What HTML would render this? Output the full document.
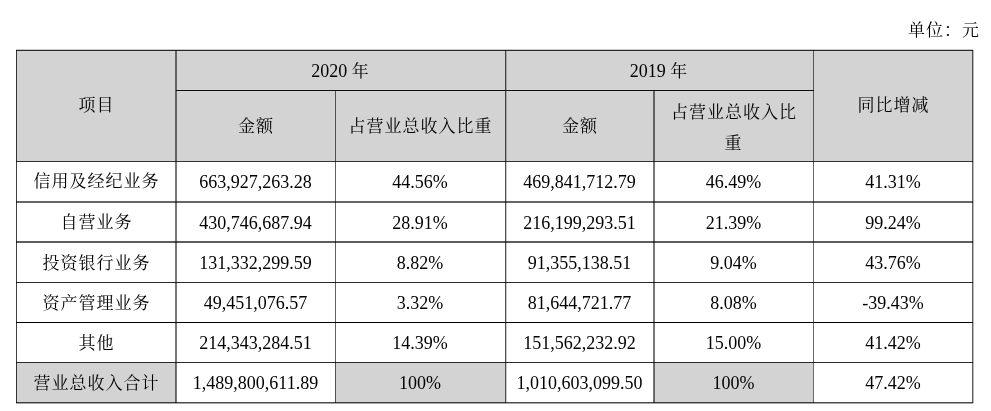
<!DOCTYPE html>
<html lang="zh-CN">
<head>
<meta charset="utf-8">
<title>营业总收入构成</title>
<style>
html, body { margin: 0; padding: 0; background: #fff; }
body { width: 991px; height: 411px; position: relative; overflow: hidden;
  font-family: "Liberation Serif", "Noto Serif CJK SC", serif; font-size: 18px; color: #000; }
.c { font-family: "Noto Serif CJK SC", serif; color: #000; font-size: 17px; letter-spacing: 1px; }
td.c { text-indent: 1px; }
.unit { position: absolute; left: 908px; top: 16.5px; line-height: 24px; white-space: nowrap; }
table { position: absolute; left: 16px; top: 50px; border-collapse: collapse; border-spacing: 0; table-layout: fixed; width: 957px; }
td { border: 0; text-align: center; vertical-align: middle; padding: 1px 9px 0; line-height: 31px; white-space: nowrap; }
td.w { white-space: normal; padding-bottom: 0; }
td.c { padding-top: 0; padding-bottom: 4px; }
tr.r2 td.c { padding-bottom: 2px; }
tr.r2 td.c.w { padding-bottom: 0; padding-top: 1px; }
.g { background: #d3d3d3; }
.h, .v { position: absolute; mix-blend-mode: multiply; }
.h { height: 1px; }
.v { width: 1px; }
</style>
</head>
<body>
<div class="unit c">单位：元</div>
<table>
<colgroup>
<col style="width:160px"><col style="width:159px"><col style="width:170px"><col style="width:149px"><col style="width:159px"><col style="width:160px">
</colgroup>
<tr style="height:40px">
<td class="g c" rowspan="2">项目</td>
<td class="g" colspan="2">2020 <span class="c">年</span></td>
<td class="g" colspan="2">2019 <span class="c">年</span></td>
<td class="g c" rowspan="2">同比增减</td>
</tr>
<tr class="r2" style="height:71px">
<td class="g c">金额</td>
<td class="g c">占营业总收入比重</td>
<td class="g c">金额</td>
<td class="g c w">占营业总收入比重</td>
</tr>
<tr style="height:41px"><td class="c">信用及经纪业务</td><td>663,927,263.28</td><td>44.56%</td><td>469,841,712.79</td><td>46.49%</td><td>41.31%</td></tr>
<tr style="height:41px"><td class="c">自营业务</td><td>430,746,687.94</td><td>28.91%</td><td>216,199,293.51</td><td>21.39%</td><td>99.24%</td></tr>
<tr style="height:40px"><td class="c">投资银行业务</td><td>131,332,299.59</td><td>8.82%</td><td>91,355,138.51</td><td>9.04%</td><td>43.76%</td></tr>
<tr style="height:40px"><td class="c">资产管理业务</td><td>49,451,076.57</td><td>3.32%</td><td>81,644,721.77</td><td>8.08%</td><td>-39.43%</td></tr>
<tr style="height:40px"><td class="c">其他</td><td>214,343,284.51</td><td>14.39%</td><td>151,562,232.92</td><td>15.00%</td><td>41.42%</td></tr>
<tr style="height:40px"><td class="g c">营业总收入合计</td><td>1,489,800,611.89</td><td class="g">100%</td><td>1,010,603,099.50</td><td class="g">100%</td><td>47.42%</td></tr>
</table>

<!-- horizontal rules -->
<div class="h" style="left:16px;width:957px;top:49px;background:#c8c8c8"></div>
<div class="h" style="left:16px;width:957px;top:50px;background:#303030"></div>
<div class="h" style="left:176px;width:638px;top:90px;background:#111"></div>
<div class="h" style="left:16px;width:957px;top:161px;background:#333"></div>
<div class="h" style="left:16px;width:957px;top:201px;height:2px;background:#666"></div>
<div class="h" style="left:16px;width:957px;top:241px;height:2px;background:#5c5c5c"></div>
<div class="h" style="left:16px;width:957px;top:282px;background:#2a2a2a"></div>
<div class="h" style="left:16px;width:957px;top:322px;background:#000"></div>
<div class="h" style="left:16px;width:957px;top:362px;background:#2a2a2a"></div>
<div class="h" style="left:16px;width:957px;top:402px;background:#4a4a4a"></div>
<div class="h" style="left:16px;width:957px;top:403px;background:#a8a8a8"></div>

<!-- vertical rules -->
<div class="v" style="left:16px;top:50px;height:353px;background:#404040"></div>
<div class="v" style="left:175px;top:50px;height:353px;width:2px;background:#777"></div>
<div class="v" style="left:335px;top:90px;height:313px;background:#606060"></div>
<div class="v" style="left:505px;top:50px;height:353px;background:#505050"></div>
<div class="v" style="left:506px;top:50px;height:353px;background:#c8c8c8"></div>
<div class="v" style="left:653px;top:90px;height:313px;width:2px;background:#777"></div>
<div class="v" style="left:813px;top:50px;height:353px;background:#6a6a6a"></div>
<div class="v" style="left:972px;top:50px;height:353px;background:#606060"></div>
<div class="v" style="left:973px;top:50px;height:353px;background:#b8b8b8"></div>
</body>
</html>
